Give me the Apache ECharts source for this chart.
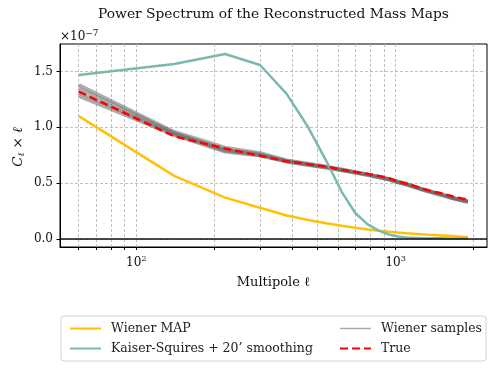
<!doctype html>
<html lang="en">
  <head>
    <meta charset="UTF-8" />
    <title>Power Spectrum</title>
    <style>
      html, body { margin: 0; padding: 0; background: #fff; }
      #chart1 { width: 498px; height: 372px; }
    </style>
  </head>
  <body>
    <div id="chart1"></div>
    <script src="https://cdn.jsdelivr.net/npm/echarts@6.0.0/dist/echarts.min.js"></script>
    <script>
      // multipole bins
      const ells = [60, 140, 220, 300, 380, 460, 540, 620, 700, 780, 860, 940,
        1020, 1100, 1180, 1260, 1340, 1420, 1500, 1580, 1660, 1740, 1820, 1900];

      // values in units of 1e-7
      const wienerMap = [1.10, 0.565, 0.37, 0.28, 0.21, 0.17, 0.14, 0.118, 0.10, 0.085, 0.073, 0.064,
        0.057, 0.051, 0.046, 0.042, 0.038, 0.035, 0.032, 0.029, 0.026, 0.023, 0.020, 0.018];
      const kaiserSquires = [1.468, 1.567, 1.656, 1.558, 1.30, 1.00, 0.70, 0.42, 0.23, 0.13, 0.075, 0.04,
        0.022, 0.014, 0.01, 0.008, 0.007, 0.006, 0.006, 0.005, 0.005, 0.005, 0.005, 0.005];
      const trueSpec = [1.32, 0.92, 0.81, 0.745, 0.695, 0.67, 0.648, 0.62, 0.60, 0.582, 0.565, 0.545,
        0.515, 0.495, 0.475, 0.452, 0.435, 0.42, 0.41, 0.395, 0.38, 0.37, 0.36, 0.352];
      const sampleA = [1.38, 0.96, 0.82, 0.77, 0.705, 0.675, 0.65, 0.625, 0.60, 0.58, 0.56, 0.54,
        0.515, 0.495, 0.47, 0.45, 0.432, 0.415, 0.40, 0.385, 0.37, 0.36, 0.35, 0.34];
      const sampleB = [1.35, 0.95, 0.80, 0.76, 0.70, 0.67, 0.645, 0.62, 0.598, 0.578, 0.557, 0.537,
        0.512, 0.492, 0.468, 0.447, 0.43, 0.412, 0.398, 0.382, 0.367, 0.355, 0.345, 0.335];
      const sampleC = [1.31, 0.94, 0.79, 0.75, 0.695, 0.665, 0.64, 0.615, 0.594, 0.574, 0.553, 0.533,
        0.508, 0.488, 0.465, 0.444, 0.426, 0.41, 0.395, 0.38, 0.364, 0.352, 0.342, 0.332];
      const sampleD = [1.28, 0.93, 0.78, 0.745, 0.69, 0.66, 0.637, 0.612, 0.59, 0.57, 0.55, 0.53,
        0.505, 0.485, 0.462, 0.44, 0.423, 0.407, 0.392, 0.377, 0.362, 0.35, 0.34, 0.33];

      // axis ticks
      const xTicks = [60, 70, 80, 90, 100, 200, 300, 400, 500, 600, 700, 800, 900, 1000, 2000];
      const xLabels = [100, 1000];
      const yTicks = [0, 0.5, 1.0, 1.5];

      const serif = "'DejaVu Serif', serif";
      const pairs = (ys) => ells.map((l, i) => [l, ys[i]]);

      const myChart = echarts.init(document.querySelector("#chart1"));

      const sampleSeries = [sampleA, sampleB, sampleC, sampleD].map((s) => ({
        name: "Wiener samples",
        type: "line",
        data: pairs(s),
        showSymbol: false,
        symbol: "none",
        lineStyle: { color: "rgba(105,105,105,0.55)", width: 3.5 },
        itemStyle: { color: "rgba(105,105,105,0.55)" },
        z: 2,
      }));

      const legendText = { fontFamily: serif, fontSize: 12.5, color: "#222", padding: [0, 0, 0, 5] };

      const option = {
        animation: false,
        grid: {
          left: 60, right: 11, top: 44, bottom: 125,
          show: true, borderColor: "#000", borderWidth: 1,
        },
        graphic: [
          {
            type: "text", x: 273.5, y: 7,
            style: { text: "Power Spectrum of the Reconstructed Mass Maps", font: "13.8px " + serif, fill: "#111", align: "center" },
          },
          {
            type: "text", x: 60, y: 29,
            style: {
              text: "×10{s|−7}", font: "12px " + serif, fill: "#111",
              rich: { s: { font: "9px " + serif, verticalAlign: "top", padding: [0, 0, 6, 0] } },
            },
          },
          {
            type: "text", x: 273.5, y: 276,
            style: { text: "Multipole ℓ", font: "13px " + serif, fill: "#111", align: "center" },
          },
          {
            type: "text", x: 11, y: 147, rotation: Math.PI / 2,
            style: {
              text: "C{sub|ℓ} × ℓ", font: "italic 13.5px " + serif, fill: "#111", align: "center",
              rich: { sub: { font: "italic 9px " + serif, padding: [6, 0, 0, 0] } },
            },
          },
          {
            type: "rect", z: 0,
            shape: { x: 61, y: 316, width: 425, height: 45, r: 3 },
            style: { fill: "#fff", stroke: "#d0d0d0", lineWidth: 1 },
          },
        ],
        legend: [
          {
            data: ["Wiener MAP", "Kaiser-Squires + 20’ smoothing"],
            orient: "vertical", left: 64, top: 317,
            itemWidth: 31, itemHeight: 14, itemGap: 7,
            itemStyle: { opacity: 0 },
            textStyle: legendText,
          },
          {
            data: [
              { name: "Wiener samples", lineStyle: { color: "#aaaaaa", width: 1.5 } },
              "True",
            ],
            orient: "vertical", left: 334, top: 317,
            itemWidth: 31, itemHeight: 14, itemGap: 7,
            itemStyle: { opacity: 0 },
            textStyle: legendText,
          },
        ],
        xAxis: {
          type: "log",
          logBase: 10,
          min: 50.8,
          max: 2250,
          axisLine: { show: true, onZero: false, lineStyle: { color: "#000", width: 1 } },
          axisTick: { show: true, customValues: xTicks, length: 3, lineStyle: { color: "#000" } },
          axisLabel: {
            customValues: xLabels,
            margin: 8,
            formatter: (v) => "10{s|" + Math.round(Math.log10(v)) + "}",
            fontFamily: serif, fontSize: 12, color: "#111",
            rich: { s: { fontFamily: serif, fontSize: 8, verticalAlign: "top", padding: [0, 0, 7, 0] } },
          },
          splitLine: { show: true, lineStyle: { color: "#b0b0b0", type: [3, 2], width: 0.8 } },
          minorTick: { show: false },
        },
        yAxis: {
          type: "value",
          min: -0.072,
          max: 1.746,
          axisLine: { show: true, onZero: false, lineStyle: { color: "#000", width: 1 } },
          axisTick: { show: true, customValues: yTicks, length: 3.5, lineStyle: { color: "#000" } },
          axisLabel: {
            customValues: yTicks,
            margin: 7,
            formatter: (v) => Math.abs(v).toFixed(1),
            fontFamily: serif, fontSize: 12, color: "#111",
          },
          splitLine: { show: true, lineStyle: { color: "#b0b0b0", type: [3, 2], width: 0.8 } },
        },
        series: [
          ...sampleSeries,
          {
            name: "Wiener MAP",
            type: "line",
            data: pairs(wienerMap),
            showSymbol: false,
            symbol: "none",
            lineStyle: { color: "#ffc107", width: 2.5 },
            itemStyle: { color: "#ffc107" },
            z: 3,
            markLine: {
              silent: true,
              symbol: "none",
              label: { show: false },
              lineStyle: { color: "#111", width: 1.5, type: "solid" },
              data: [{ yAxis: 0 }],
            },
          },
          {
            name: "Kaiser-Squires + 20’ smoothing",
            type: "line",
            data: pairs(kaiserSquires),
            showSymbol: false,
            symbol: "none",
            lineStyle: { color: "#7ab8b0", width: 2.5 },
            itemStyle: { color: "#7ab8b0" },
            z: 3,
          },
          {
            name: "True",
            type: "line",
            data: pairs(trueSpec),
            showSymbol: false,
            symbol: "none",
            lineStyle: { color: "#ff0000", width: 2.5, type: [8, 4] },
            itemStyle: { color: "#ff0000" },
            z: 4,
          },
        ],
      };

      myChart.setOption(option);
    </script>
  </body>
</html>
